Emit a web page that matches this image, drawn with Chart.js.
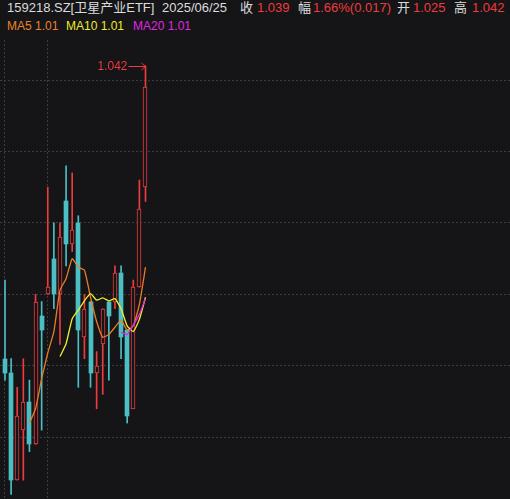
<!DOCTYPE html>
<html>
<head>
<meta charset="utf-8">
<script src="https://cdn.jsdelivr.net/npm/chart.js@4.4.1/dist/chart.umd.min.js"></script>
<style>
  html, body { margin: 0; padding: 0; background: #151517; width: 510px; height: 499px; overflow: hidden; }
  body { font-family: "Liberation Sans", "Noto Sans CJK SC", sans-serif; }
  #head span { position: absolute; white-space: nowrap; }
  .r1 { top: 0; font-size: 13px; line-height: 16px; }
  .r2 { top: 18px; font-size: 12px; line-height: 16px; }
  .lab { color: #dcdcdc; }
  .up { color: #ee3b3d; }
  #wrap { position: absolute; left: 0; top: 40px; width: 510px; height: 459px; }
</style>
</head>
<body>
<div id="head">
  <span class="r1 lab" style="left:7px">159218.SZ[卫星产业ETF]</span>
  <span class="r1 lab" style="left:162px">2025/06/25</span>
  <span class="r1 lab" style="left:240px">收</span>
  <span class="r1 up" style="left:257px">1.039</span>
  <span class="r1 lab" style="left:298px">幅</span>
  <span class="r1 up" style="left:313px">1.66%(0.017)</span>
  <span class="r1 lab" style="left:397px">开</span>
  <span class="r1 up" style="left:413px">1.025</span>
  <span class="r1 lab" style="left:454px">高</span>
  <span class="r1 up" style="left:472px">1.042</span>
  <span class="r2" style="left:7px;color:#e8832c">MA5 1.01</span>
  <span class="r2" style="left:66px;color:#ecec2a">MA10 1.01</span>
  <span class="r2" style="left:133px;color:#e026e0">MA20 1.01</span>
</div>
<div id="wrap"><canvas id="kline"></canvas></div>
<script>
// --- Data ---
const dates = [
  '2025-05-22', '2025-05-23', '2025-05-26', '2025-05-27', '2025-05-28', '2025-05-29', '2025-05-30',
  '2025-06-03', '2025-06-04', '2025-06-05', '2025-06-06', '2025-06-09', '2025-06-10', '2025-06-11',
  '2025-06-12', '2025-06-13', '2025-06-16', '2025-06-17', '2025-06-18', '2025-06-19', '2025-06-20',
  '2025-06-23', '2025-06-24', '2025-06-25'
];
const opens  = [1.001, 0.999, 0.984, 0.991, 0.995, 0.989, 1.007, 1.010, 1.015, 1.010, 1.023, 1.017,
                1.020, 1.004, 1.009, 0.999, 1.003, 1.009, 1.009, 1.013, 1.005, 0.994, 1.011, 1.025];
const highs  = [1.012, 1.001, 0.997, 1.001, 0.998, 1.010, 1.009, 1.025, 1.020, 1.020, 1.028, 1.027,
                1.021, 1.010, 1.009, 1.002, 1.008, 1.009, 1.014, 1.014, 1.005, 1.012, 1.026, 1.042];
const lows   = [0.998, 0.982, 0.984, 0.984, 0.988, 0.989, 0.991, 1.010, 1.008, 1.003, 1.014, 1.016,
                0.997, 1.001, 0.997, 0.994, 0.996, 0.998, 1.008, 1.001, 0.992, 0.994, 1.011, 1.023];
const closes = [0.999, 0.984, 0.993, 0.995, 0.989, 1.009, 1.005, 1.011, 1.010, 1.018, 1.017, 1.019,
                1.005, 1.008, 0.999, 1.000, 1.008, 1.007, 1.013, 1.004, 0.993, 1.011, 1.022, 1.039];
const ma5  = [null, null, null, null, 0.9920, 0.9940, 0.9982, 1.0018, 1.0048, 1.0106, 1.0122, 1.0150,
              1.0138, 1.0134, 1.0096, 1.0062, 1.0040, 1.0044, 1.0054, 1.0064, 1.0050, 1.0056, 1.0086, 1.0138];
const ma10 = [null, null, null, null, null, null, null, null, null, 1.0013, 1.0031, 1.0066,
              1.0078, 1.0091, 1.0101, 1.0092, 1.0095, 1.0091, 1.0094, 1.0080, 1.0056, 1.0048, 1.0065, 1.0096];
const ma20 = [null, null, null, null, null, null, null, null, null, null, null, null,
              null, null, null, null, null, null, null, 1.0047, 1.0044, 1.0057, 1.0072, 1.0094];

// --- Styles ---
const bg = '#151517';
const red = '#ee3b3d';
const teal = '#4cbfc4';
const gridColor = '#3c3c41';

const isUp = closes.map((c, i) => c >= opens[i]);
// first day and first day of each new month get a vertical grid line
const monthStarts = dates.map((d, i) => i).filter(i => i === 0 || dates[i].slice(0, 7) !== dates[i - 1].slice(0, 7));
const asPoints = arr => arr.map((v, i) => ({ x: i, y: v }));

// --- Plugin: snap candle bodies to whole pixels so the 1px borders stay crisp ---
const snapBodies = {
  id: 'snapBodies',
  beforeDatasetsDraw(chart) {
    const meta = chart.getDatasetMeta(3);
    meta.data.forEach(el => {
      el.x = Math.round(el.x);
      el.y = Math.round(el.y);
      el.base = Math.round(el.base);
      el.width = 4;
    });
  }
};

// --- Plugin: arrow label at the highest high ---
const highMarker = {
  id: 'highMarker',
  afterDatasetsDraw(chart) {
    const { ctx, scales: { x, y } } = chart;
    const i = highs.indexOf(Math.max(...highs));
    const px = x.getPixelForValue(i);
    const py = Math.round(y.getPixelForValue(highs[i])) + 0.5;
    ctx.save();
    ctx.strokeStyle = red;
    ctx.fillStyle = red;
    ctx.lineWidth = 1;
    ctx.beginPath();
    ctx.moveTo(px - 17, py);
    ctx.lineTo(px, py);
    ctx.moveTo(px - 4, py - 3.5);
    ctx.lineTo(px, py);
    ctx.lineTo(px - 4, py + 3.5);
    ctx.stroke();
    ctx.font = '12px "Liberation Sans", sans-serif';
    ctx.textAlign = 'right';
    ctx.textBaseline = 'middle';
    ctx.fillText(highs[i].toFixed(3), px - 18, py);
    ctx.restore();
  }
};

new Chart(document.getElementById('kline'), {
  type: 'bar',
  data: {
    datasets: [
      // first listed line is drawn on top
      { type: 'line', label: 'MA20', data: asPoints(ma20), borderColor: '#e824e8', borderWidth: 1.3, pointRadius: 0, tension: 0.15, order: 0 },
      { type: 'line', label: 'MA10', data: asPoints(ma10), borderColor: '#eeee2c', borderWidth: 1.3, pointRadius: 0, tension: 0.15, order: 0 },
      { type: 'line', label: 'MA5', data: asPoints(ma5), borderColor: '#e67d28', borderWidth: 1.3, pointRadius: 0, tension: 0.15, order: 0 },
      {
        label: 'body',
        data: dates.map((d, i) => ({ x: i, y: [opens[i], closes[i]] })),
        backgroundColor: isUp.map(u => u ? bg : teal),
        borderColor: isUp.map(u => u ? red : teal),
        borderWidth: isUp.map(u => u ? 1 : 0),
        borderSkipped: false,
        barThickness: 4,
        grouped: false,
        order: 1
      },
      {
        label: 'wick',
        data: dates.map((d, i) => ({ x: i, y: [lows[i], highs[i]] })),
        backgroundColor: isUp.map(u => u ? red : teal),
        barThickness: 1,
        grouped: false,
        order: 2
      }
    ]
  },
  options: {
    responsive: true,
    maintainAspectRatio: false,
    animation: false,
    layout: { padding: 0 },
    plugins: { legend: { display: false }, tooltip: { enabled: false } },
    scales: {
      x: {
        type: 'linear',
        min: -0.8185,
        max: 82.67,
        offset: false,
        ticks: { display: false },
        grid: { color: gridColor, drawTicks: false, offset: false },
        border: { display: false, dash: [2, 2] },
        afterBuildTicks: s => { s.ticks = monthStarts.map(v => ({ value: v })); },
        afterFit: s => { s.height = 0; }
      },
      y: {
        min: 0.981366,
        max: 1.045598,
        ticks: { display: false, stepSize: 0.01, includeBounds: false },
        grid: { color: gridColor, drawTicks: false },
        border: { display: false, dash: [2, 2] },
        afterFit: s => { s.width = 0; }
      }
    }
  },
  plugins: [snapBodies, highMarker]
});
</script>
</body>
</html>
